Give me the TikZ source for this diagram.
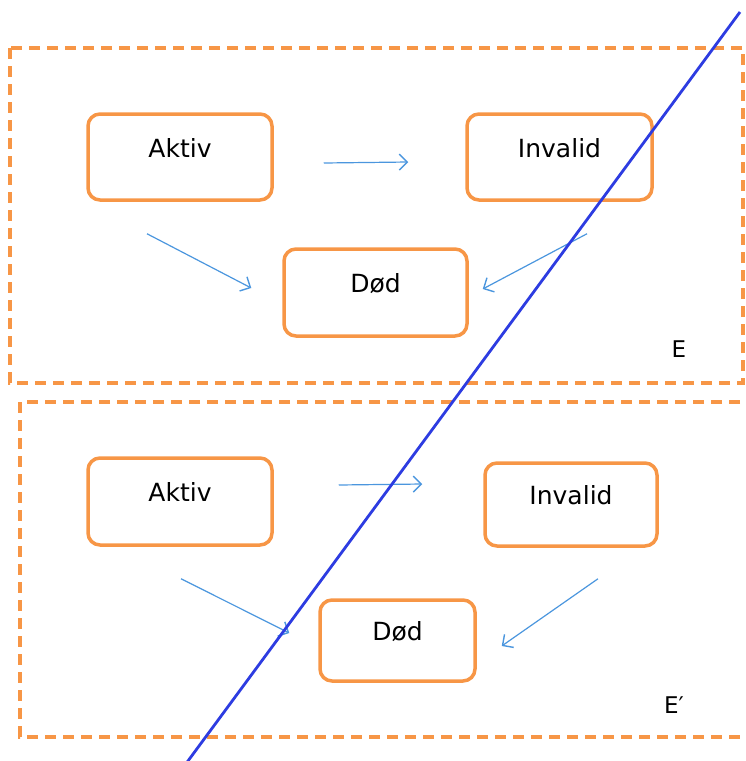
\documentclass[tikz,border=0pt]{standalone}
\usepackage{fontspec}
\setmainfont{DejaVu Sans}
\usepackage{tikz}
\usetikzlibrary{arrows.meta}

\definecolor{boxorange}{RGB}{247,150,70}
\definecolor{arrowblue}{RGB}{75,150,222}
\definecolor{cutblue}{RGB}{45,60,225}

\begin{document}
\begin{tikzpicture}[x=1pt,y=-1pt,
    state/.style={draw=boxorange,line width=3.5pt,rounded corners=12pt,
      font=\fontsize{25}{29}\selectfont,text height=40pt,text depth=40pt,
      inner ysep=3pt,inner xsep=0pt},
    group/.style={draw=boxorange,line width=4pt,dash pattern=on 11pt off 7pt},
    trans/.style={draw=arrowblue,line width=1.2pt,-{Straight Barb[length=8pt,width=16pt,line width=1.4pt]}},
    tag/.style={font=\fontsize{23}{27}\selectfont}]
    \useasboundingbox (0,0) rectangle (745,761);
    \clip (0,0) rectangle (745,761);

    % upper model E
    \draw[group] (10,48) rectangle (743,383);
    \node[state,minimum width=184pt] (aktiv1) at (180,157) {Aktiv};
    \node[state,minimum width=185pt] (inv1) at (559.5,157) {Invalid};
    \node[state,minimum width=183pt,text height=40.5pt,text depth=40.5pt] (dod1) at (375.5,292.5) {Død};
    \node[tag] (e1) at (679,349) {E};
    \draw[trans] ([shift={(50,6)}]aktiv1.east) -- ([shift={(-57,5)}]inv1.west);
    \draw[trans] ([shift={(-33,32)}]aktiv1.south) -- ([shift={(-31,-4.5)}]dod1.west);
    \draw[trans] ([shift={(27.5,32)}]inv1.south) -- ([shift={(14,-3.5)}]dod1.east);

    % lower model E'
    \draw[group] (20,402) rectangle (765,737);
    \node[state,minimum width=184pt,text height=40.5pt,text depth=40.5pt] (aktiv2) at (180,501.5) {Aktiv};
    \node[state,minimum width=172pt,text height=38.5pt,text depth=38.5pt] (inv2) at (571,504.5) {Invalid};
    \node[state,minimum width=155pt,text height=37.5pt,text depth=37.5pt] (dod2) at (397.5,640.5) {Død};
    \node[tag] (e2) at (674,705) {E′};
    \draw[trans] ([shift={(65,-16.5)}]aktiv2.east) -- ([shift={(-61,-20.5)}]inv2.west);
    \draw[trans] ([shift={(1,32)}]aktiv2.south) -- ([shift={(-29,-7.5)}]dod2.west);
    \draw[trans] ([shift={(27,31)}]inv2.south) -- ([shift={(25,5.5)}]dod2.east);

    % cutting line
    \coordinate (cuttop) at (740,12);
    \coordinate (cutbot) at (185,765);
    \draw[cutblue,line width=2.8pt] (cutbot) -- (cuttop);
\end{tikzpicture}
\end{document}
